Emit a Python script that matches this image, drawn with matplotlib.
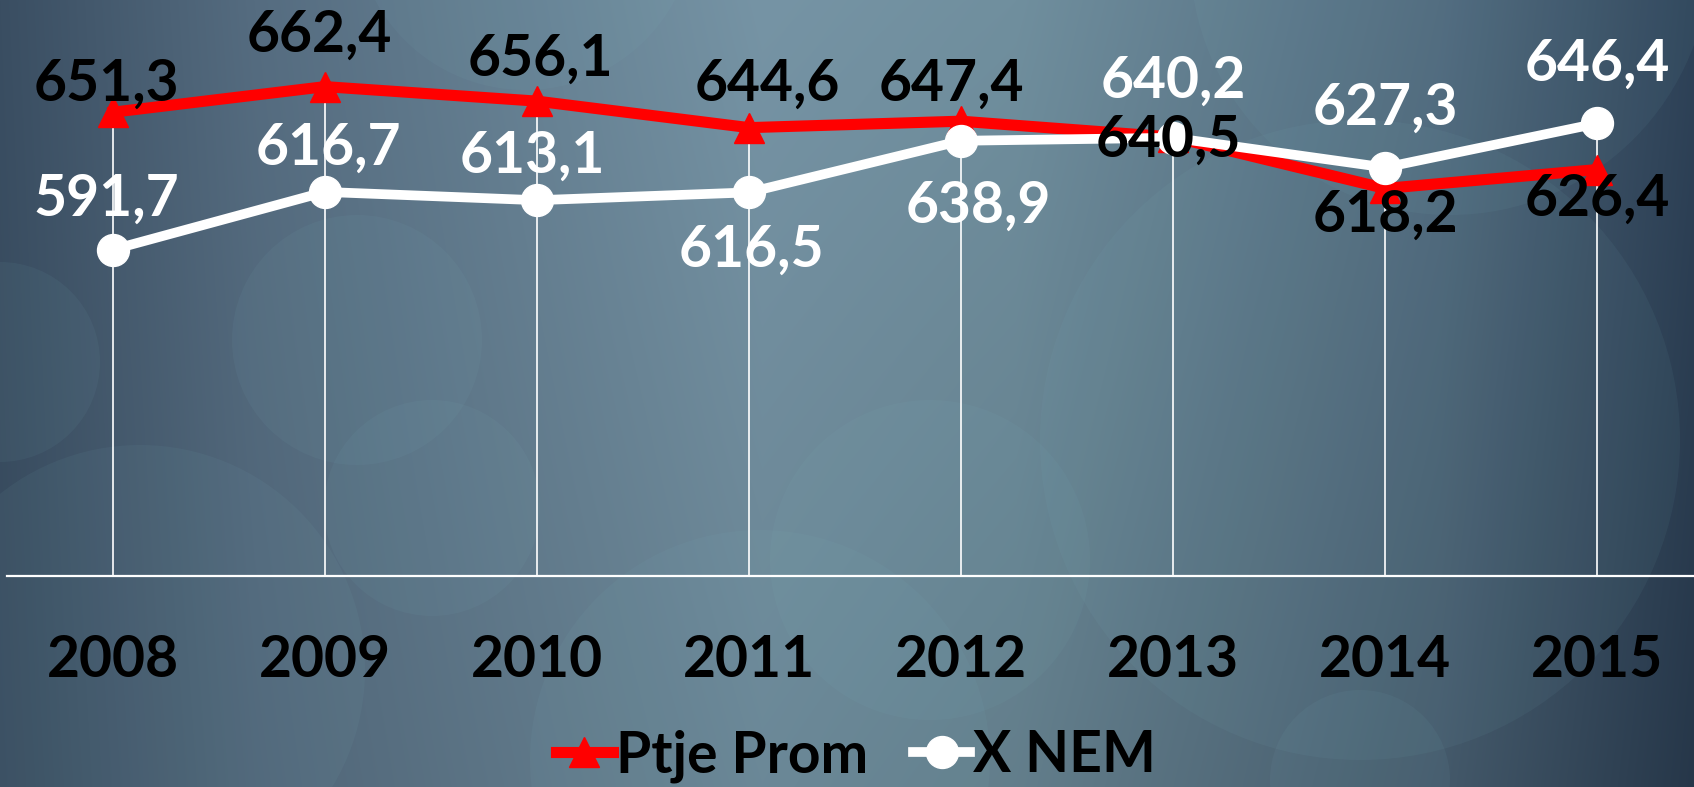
import numpy as np
import matplotlib.pyplot as plt
import matplotlib.patches as patches

# data
years = ['2008', '2009', '2010', '2011', '2012', '2013', '2014', '2015']
ptje_prom = [651.3, 662.4, 656.1, 644.6, 647.4, 640.5, 618.2, 626.4]
x_nem = [591.7, 616.7, 613.1, 616.5, 638.9, 640.2, 627.3, 646.4]

# label offsets in pixels (dx, dy) for the data labels
red_offsets = [(-7, 28), (-6, 51), (3, 42), (18, 43), (-10, 37), (-5, -3), (0, -27), (0, -30)]
white_offsets = [(-7, 50), (3, 44), (-5, 44), (2, -58), (17, -65), (0, 57), (0, 59), (0, 59)]

W, H = 1694, 787
plt.rcParams['font.family'] = ['Lato', 'DejaVu Sans']
plt.rcParams['font.weight'] = 'bold'
FS = 41

fig = plt.figure(figsize=(W / 100, H / 100), dpi=100)

# background gradient with soft circles
bg = fig.add_axes([0, 0, 1, 1])
bg.set_axis_off()
xs = np.linspace(0, 1, W)
ys = np.linspace(0, 1, H)
stops = [0, 0.15, 0.45, 0.6, 0.85, 1.0]
cols = np.array([[58, 78, 98], [85, 108, 128], [118, 148, 165],
                 [112, 143, 158], [80, 105, 125], [46, 66, 88]]) / 255
row = np.stack([np.interp(xs, stops, cols[:, k]) for k in range(3)], axis=1)
fade = 1 - 0.12 * ys[:, None, None] * (0.4 + xs[None, :, None])
img = np.clip(row[None, :, :] * fade, 0, 1)
bg.imshow(img, extent=(0, W, H, 0), aspect='auto')
circles = [(525, -80, 170), (357, 340, 125), (432, 508, 108), (0, 362, 100),
           (140, 670, 225), (930, 560, 160), (1450, -45, 260), (1360, 440, 320),
           (1360, 780, 90), (760, 760, 230)]
for cx, cy, r in circles:
    bg.add_patch(patches.Circle((cx, cy), r, facecolor=(0.5, 0.72, 0.76), alpha=0.07,
                                edgecolor='none'))
bg.set_xlim(0, W)
bg.set_ylim(H, 0)

# main chart
ax = fig.add_axes([7 / W, 1 - 576 / H, 1696 / W, 576 / H])
ax.patch.set_alpha(0)
x = np.arange(len(years))
ax.set_xlim(-0.5, len(years) - 0.5)
ax.set_ylim(450, 700)

top = np.maximum(ptje_prom, x_nem)
ax.vlines(x, 450, top, color='white', lw=1.2, zorder=1)

ax.plot(x, ptje_prom, color='#ff0000', lw=8, marker='^', markersize=21,
        label='Ptje Prom', zorder=3, solid_joinstyle='miter')
ax.plot(x, x_nem, color='white', lw=7, marker='o', markersize=23,
        label='X NEM', zorder=4)

for i, v in enumerate(ptje_prom):
    dx, dy = red_offsets[i]
    ax.annotate(f'{v:.1f}'.replace('.', ','), (x[i], v), xytext=(dx, dy),
                textcoords='offset pixels', ha='center', va='center',
                fontsize=FS, fontweight='bold', color='black', zorder=6)
for i, v in enumerate(x_nem):
    dx, dy = white_offsets[i]
    ax.annotate(f'{v:.1f}'.replace('.', ','), (x[i], v), xytext=(dx, dy),
                textcoords='offset pixels', ha='center', va='center',
                fontsize=FS, fontweight='bold', color='white', zorder=5)

for s in ['top', 'right', 'left']:
    ax.spines[s].set_visible(False)
ax.spines['bottom'].set_color('white')
ax.spines['bottom'].set_linewidth(1.6)
ax.set_yticks([])
ax.set_xticks(x, years)
ax.tick_params(axis='x', length=0, pad=42, labelsize=FS, labelcolor='black')
for t in ax.get_xticklabels():
    t.set_fontweight('bold')

fig.legend(loc='center', bbox_to_anchor=(856 / W, 1 - 756 / H), ncol=2, frameon=False,
           fontsize=FS, handlelength=1.0, handletextpad=0.05, columnspacing=0.8,
           borderaxespad=0, prop={'weight': 'bold', 'size': FS})

fig.savefig('out.png', dpi=100)
